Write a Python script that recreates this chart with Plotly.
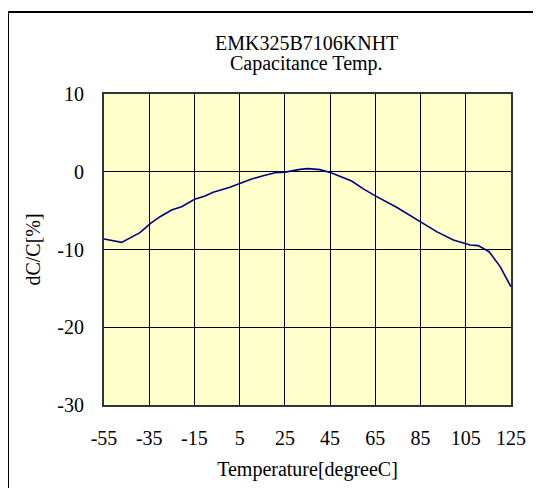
import plotly.graph_objects as go

temps = [-55, -47.2, -39.1, -34.4, -30.2, -25.1, -20.7, -14.9, -10.3, -6.7, 0.7, 5.6,
         10.3, 15.4, 20.6, 25.2, 31.7, 35.3, 40.5, 45.4, 54.5, 59.7, 65, 74.4, 85.5,
         92.1, 99.5, 106.9, 110.5, 115.3, 120.2, 125]
dcc = [-8.65, -9.08, -7.84, -6.63, -5.78, -4.92, -4.49, -3.55, -3.12, -2.64, -2.0, -1.49,
       -0.93, -0.51, -0.12, -0.05, 0.31, 0.4, 0.27, -0.13, -1.2, -2.2, -3.1, -4.57, -6.55,
       -7.7, -8.78, -9.42, -9.5, -10.28, -12.2, -14.8]
x_ticks = [-55, -35, -15, 5, 25, 45, 65, 85, 105, 125]
y_ticks = [-30, -20, -10, 0, 10]
title_lines = ["EMK325B7106KNHT", "Capacitance Temp."]

W, H = 541, 488
L, T = 96, 86
R = W - 503
B = H - 397
pw, ph = W - L - R, H - T - B

def px_to_paper_x(px):
    return (px - L) / pw

def px_to_paper_y(py):
    return (H - B - py) / ph

font = dict(family="Liberation Serif", size=20, color="black")

fig = go.Figure()
fig.add_trace(go.Scatter(x=temps, y=dcc, mode="lines",
                         line=dict(color="#000080", width=1.6), showlegend=False))

fig.update_layout(
    width=W, height=H,
    margin=dict(l=L, r=R, t=T, b=B),
    paper_bgcolor="white",
    plot_bgcolor="#FFFFCC",
    font=font,
    xaxis=dict(range=[-55, 125], tickvals=x_ticks, ticktext=[str(v) for v in x_ticks],
               showgrid=True, gridcolor="black", gridwidth=1, zeroline=False,
               showline=True, linecolor="#333333", linewidth=2, mirror=True,
               ticks="", ticklabelstandoff=14,
               title=dict(text="Temperature[degreeC]", font=font, standoff=14)),
    yaxis=dict(range=[-30, 10], tickvals=y_ticks, ticktext=[str(v) for v in y_ticks],
               showgrid=True, gridcolor="black", gridwidth=1, zeroline=False,
               showline=True, linecolor="#333333", linewidth=2, mirror=True,
               ticks="", ticklabelstandoff=14,
               title=dict(text="dC/C[%]", font=font, standoff=11)),
)

fig.add_annotation(text=title_lines[0], xref="paper", yref="paper",
                   x=px_to_paper_x(298), y=px_to_paper_y(35), showarrow=False,
                   xanchor="center", yanchor="middle", font=font)
fig.add_annotation(text=title_lines[1], xref="paper", yref="paper",
                   x=px_to_paper_x(298), y=px_to_paper_y(55), showarrow=False,
                   xanchor="center", yanchor="middle", font=font)

# outer frame (extends beyond right/bottom edges as in the reference)
fig.add_shape(type="rect", xref="paper", yref="paper",
              x0=px_to_paper_x(0), x1=px_to_paper_x(W + 20),
              y0=px_to_paper_y(H + 20), y1=px_to_paper_y(4),
              line=dict(color="black", width=2), fillcolor="rgba(0,0,0,0)", layer="above")

fig.write_html("out.html")
